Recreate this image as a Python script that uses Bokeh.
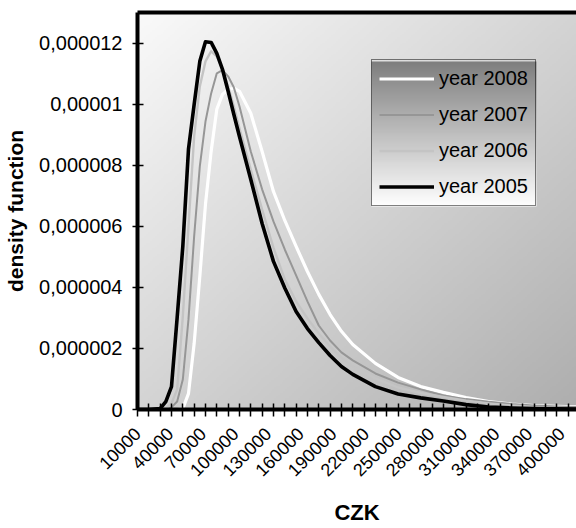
import numpy as np
from math import pi
from bokeh.plotting import figure
from bokeh.models import (Range1d, FixedTicker, LinearAxis, Legend, LegendItem)
from bokeh.embed import file_html
from bokeh.resources import INLINE

# ---------------- data ----------------
UNIT = 1e-6
income = [10000, 20000, 30000, 35000, 40000, 45000, 50000, 55000, 60000, 65000,
          70000, 75000, 80000, 85000, 90000, 95000, 100000, 110000, 120000, 130000,
          140000, 150000, 160000, 170000, 180000, 190000, 200000, 220000, 240000,
          260000, 280000, 300000, 320000, 340000, 360000, 380000, 400000]

density_2005 = [0, 0, 0.03, 0.26, 0.75, 3.01, 5.34, 8.52, 9.99, 11.40,
                12.04, 12.02, 11.66, 11.14, 10.42, 9.67, 8.94, 7.53, 6.09, 4.85,
                3.98, 3.21, 2.65, 2.19, 1.77, 1.41, 1.15, 0.75, 0.51,
                0.38, 0.28, 0.16, 0.08, 0.05, 0.03, 0.02, 0.01]
density_2006 = [0, 0, 0, 0.03, 0.20, 0.66, 3.05, 6.00, 8.94, 10.58,
                11.40, 11.73, 11.56, 11.14, 10.58, 9.93, 9.21, 7.86, 6.55, 5.30,
                4.26, 3.54, 2.98, 2.49, 2.06, 1.70, 1.41, 1.02, 0.72,
                0.54, 0.41, 0.29, 0.20, 0.13, 0.08, 0.05, 0.03]
density_2007 = [0, 0, 0, 0, 0.07, 0.26, 0.98, 2.95, 5.67, 7.96,
                9.43, 10.35, 11.01, 11.11, 10.91, 10.55, 9.93, 8.45, 7.21, 6.16,
                5.24, 4.39, 3.54, 2.75, 2.26, 1.87, 1.61, 1.18, 0.88,
                0.66, 0.46, 0.34, 0.25, 0.18, 0.13, 0.10, 0.08]
density_2008 = [0, 0, 0, 0, 0, 0, 0.03, 0.52, 2.16, 4.36,
                6.72, 8.45, 9.83, 10.32, 10.48, 10.52, 10.42, 9.70, 8.45, 7.14,
                6.19, 5.34, 4.52, 3.77, 3.11, 2.56, 2.13, 1.51, 1.05,
                0.75, 0.56, 0.39, 0.26, 0.18, 0.13, 0.10, 0.08]

series_names = ["year 2008", "year 2007", "year 2006", "year 2005"]

y_tick_values = [0, 2e-6, 4e-6, 6e-6, 8e-6, 1e-5, 1.2e-5]
y_tick_labels = ["0", "0,000002", "0,000004", "0,000006", "0,000008", "0,00001", "0,000012"]

x_label_values = [10000, 40000, 70000, 100000, 130000, 160000, 190000, 220000,
                  250000, 280000, 310000, 340000, 370000, 400000]
x_tick_labels = ["10000", "40000", "70000", "100000", "130000", "160000", "190000",
                 "220000", "250000", "280000", "310000", "340000", "370000", "400000"]
x_tick_marks = list(range(10000, 400001, 10000))

# ---------------- layout ----------------
W, H = 576, 528
BL, BT, BR, BB = 137, 12, 0, 119
FW, FH = W - BL - BR, H - BT - BB
X0, X1 = 10000, 397500
Y0, Y1 = 0, 1.3e-5
FONT = "Liberation Sans"
# the category labels sit slightly left of their tick marks (Excel style);
# the label axis uses a slightly compressed range so the last label fits
LBL_END = 10000 + (400000 - 10000) * FW / (FW - 15)

p = figure(width=W, height=H, output_backend="svg", toolbar_location=None,
           x_range=Range1d(X0, X1), y_range=Range1d(Y0, Y1),
           min_border_left=BL, min_border_right=BR, min_border_top=BT,
           min_border_bottom=BB)
p.extra_x_ranges = {"labels": Range1d(10000, LBL_END)}
p.outline_line_color = None
p.xgrid.visible = False
p.ygrid.visible = False
p.background_fill_color = "white"
p.border_fill_color = "white"

# frame gradient background (diagonal, light top-left -> grey bottom-right)
nx, ny = 240, 220
gx = np.linspace(0, 1, nx)[None, :]
gy = np.linspace(0, 1, ny)[:, None]          # row 0 = bottom
t = (gx + (1 - gy)) / 2
gray = (250 - 76 * t).astype(np.uint8)
bg = np.empty((ny, nx), dtype=np.uint32)
v = bg.view(dtype=np.uint8).reshape((ny, nx, 4))
v[..., 0] = gray; v[..., 1] = gray; v[..., 2] = gray; v[..., 3] = 255
p.image_rgba(image=[bg], x=X0, y=Y0, dw=X1 - X0, dh=Y1 - Y0)

# legend gradient (vertical, dark grey top -> white bottom)
LG_L, LG_B, LG_W, LG_H = 234, 203, 165, 145   # px relative to frame bottom-left
lny = 150
lg = np.linspace(0, 1, lny)[:, None] * np.ones((1, 4))   # 0 bottom -> 1 top
lgray = (255 - 128 * lg).astype(np.uint8)
lim = np.empty((lny, 4), dtype=np.uint32)
lv = lim.view(dtype=np.uint8).reshape((lny, 4, 4))
lv[..., 0] = lgray; lv[..., 1] = lgray; lv[..., 2] = lgray; lv[..., 3] = 255
sx = (X1 - X0) / FW
sy = (Y1 - Y0) / FH
p.image_rgba(image=[lim], x=X0 + LG_L * sx, y=Y0 + LG_B * sy, dw=LG_W * sx, dh=LG_H * sy)

# lines
x = np.array(income)
r08 = p.line(x, np.array(density_2008) * UNIT, line_color="white", line_width=3.2, line_join="round")
r07 = p.line(x, np.array(density_2007) * UNIT, line_color="#969696", line_width=2, line_join="round")
r06 = p.line(x, np.array(density_2006) * UNIT, line_color="#c4c4c4", line_width=2.4, line_join="round")
r05 = p.line(x, np.array(density_2005) * UNIT, line_color="black", line_width=3.6, line_join="round")

# y axis
ya = p.yaxis[0]
ya.ticker = FixedTicker(ticks=y_tick_values)
ya.major_label_overrides = {tv: tl for tv, tl in zip(y_tick_values, y_tick_labels)}
ya.axis_line_width = 4
ya.axis_line_color = "black"
ya.major_tick_in = 6
ya.major_tick_out = 5
ya.major_tick_line_width = 1.5
ya.minor_tick_line_color = None
ya.major_label_standoff = 10
ya.major_label_text_font = FONT
ya.major_label_text_font_size = "20px"
ya.major_label_text_color = "black"
ya.axis_label = "density function"
ya.axis_label_text_font = FONT
ya.axis_label_text_font_size = "21px"
ya.axis_label_text_font_style = "bold"
ya.axis_label_text_color = "black"
ya.axis_label_standoff = 9

# x axis: tick marks every 10000
xa = p.xaxis[0]
xa.ticker = FixedTicker(ticks=x_tick_marks)
xa.major_label_overrides = {tv: "" for tv in x_tick_marks}
xa.major_label_text_font_size = "1px"
xa.axis_line_width = 4
xa.axis_line_color = "black"
xa.major_tick_in = 6
xa.major_tick_out = 7
xa.major_tick_line_width = 1.5
xa.minor_tick_line_color = None
xa.major_label_standoff = 0

# x axis: rotated category labels + title
xl = LinearAxis(x_range_name="labels", ticker=FixedTicker(ticks=x_label_values),
                major_label_overrides={tv: tl for tv, tl in zip(x_label_values, x_tick_labels)},
                axis_line_color=None, major_tick_line_color=None, minor_tick_line_color=None,
                major_tick_out=0, major_tick_in=0,
                major_label_orientation=pi / 4, major_label_standoff=14,
                major_label_text_font=FONT, major_label_text_font_size="18px",
                major_label_text_color="black",
                axis_label="CZK", axis_label_text_font=FONT, axis_label_text_font_size="22px",
                axis_label_text_font_style="bold", axis_label_text_color="black",
                axis_label_standoff=15)
p.add_layout(xl, "below")

# top border
top = LinearAxis(ticker=FixedTicker(ticks=[]), axis_line_width=4, axis_line_color="black",
                 major_tick_line_color=None, minor_tick_line_color=None,
                 major_label_text_font_size="0px")
p.add_layout(top, "above")

legend = Legend(items=[LegendItem(label=series_names[0], renderers=[r08]),
                       LegendItem(label=series_names[1], renderers=[r07]),
                       LegendItem(label=series_names[2], renderers=[r06]),
                       LegendItem(label=series_names[3], renderers=[r05])],
                location=(LG_L, LG_B))
legend.background_fill_alpha = 0
legend.border_line_color = "black"
legend.border_line_width = 1
legend.padding = 7
legend.margin = 0
legend.spacing = 13
legend.glyph_width = 55
legend.glyph_height = 23
legend.label_height = 23
legend.label_width = 89
legend.label_standoff = 5
legend.label_text_font = FONT
legend.label_text_font_size = "20px"
legend.label_text_color = "black"
p.add_layout(legend)

open("out.html", "w").write(file_html(p, INLINE))
